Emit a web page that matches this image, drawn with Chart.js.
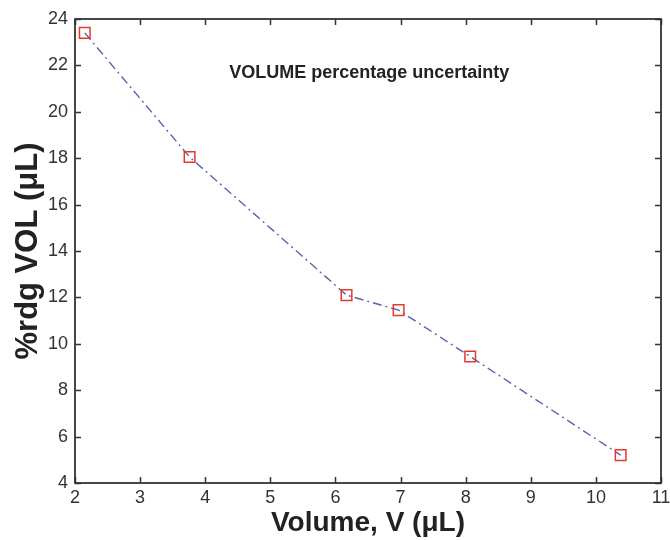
<!DOCTYPE html>
<html>
<head>
<meta charset="utf-8">
<script src="https://cdn.jsdelivr.net/npm/chart.js@4"></script>
<style>
  html, body { margin: 0; padding: 0; background: #ffffff; }
  #wrap { width: 670px; height: 540px; position: relative; }
</style>
</head>
<body>
<div id="wrap"><canvas id="c" width="670" height="540"></canvas></div>
<script>
// Data
const volumes = [2.15, 3.76, 6.17, 6.97, 8.07, 10.38];
const percentRdg = [23.4, 18.05, 12.1, 11.45, 9.45, 5.2];
const xTicks = [2, 3, 4, 5, 6, 7, 8, 9, 10, 11];
const yTicks = [4, 6, 8, 10, 12, 14, 16, 18, 20, 22, 24];
const chartTitle = 'VOLUME percentage uncertainty';
const xTitle = 'Volume, V (\u03BCL)';
const yTitle = '%rdg VOL (\u03BCL)';

const points = volumes.map((v, i) => ({ x: v, y: percentRdg[i] }));

const tickFont = { family: "'Liberation Sans Narrow', 'Liberation Sans', Arial, sans-serif", size: 18 };
const titleFontFamily = "'Liberation Sans', Arial, sans-serif";

const boxPlugin = {
  id: 'boxTicks',
  afterDatasetsDraw(chart) {
    const { ctx, chartArea: a, scales } = chart;
    const len = 6;
    ctx.save();
    ctx.strokeStyle = '#333333';
    ctx.lineWidth = 1.5;
    ctx.beginPath();
    xTicks.forEach(t => {
      const px = Math.round(scales.x.getPixelForValue(t)) + 0.5;
      ctx.moveTo(px, a.bottom); ctx.lineTo(px, a.bottom - len);
      ctx.moveTo(px, a.top); ctx.lineTo(px, a.top + len);
    });
    yTicks.forEach(t => {
      const py = Math.round(scales.y.getPixelForValue(t)) + 0.5;
      ctx.moveTo(a.left, py); ctx.lineTo(a.left + len, py);
      ctx.moveTo(a.right, py); ctx.lineTo(a.right - len, py);
    });
    ctx.stroke();
    ctx.lineWidth = 1.8;
    ctx.strokeRect(a.left, a.top, a.right - a.left, a.bottom - a.top);
    // in-plot title
    ctx.fillStyle = '#222222';
    ctx.font = 'bold 18px ' + titleFontFamily;
    ctx.textAlign = 'center';
    ctx.textBaseline = 'middle';
    ctx.fillText(chartTitle, scales.x.getPixelForValue(6.52), scales.y.getPixelForValue(21.65));
    ctx.restore();
  }
};

new Chart(document.getElementById('c'), {
  type: 'scatter',
  data: {
    datasets: [{
      data: points,
      showLine: true,
      borderColor: '#5a61ad',
      borderWidth: 1.4,
      borderDash: [9, 4, 2, 4],
      pointStyle: 'rect',
      pointRadius: 7.5,
      pointHoverRadius: 7.5,
      pointBorderColor: '#e8382e',
      pointBorderWidth: 1.5,
      pointBackgroundColor: 'rgba(0,0,0,0)',
      tension: 0
    }]
  },
  options: {
    responsive: false,
    animation: false,
    events: [],
    layout: { padding: { top: 19, right: 7, left: 0, bottom: 0 } },
    plugins: { legend: { display: false }, tooltip: { enabled: false }, title: { display: false } },
    scales: {
      x: {
        type: 'linear',
        min: 2, max: 11,
        afterBuildTicks: s => { s.ticks = xTicks.map(v => ({ value: v })); },
        afterFit: s => { s.height = 57; s.paddingLeft = 0; s.paddingRight = 0; },
        grid: { display: false, drawTicks: false },
        border: { display: false },
        ticks: { font: tickFont, color: '#333333', padding: 4, maxRotation: 0, autoSkip: false },
        title: { display: true, text: xTitle, color: '#222222', font: { family: titleFontFamily, size: 28, weight: 'bold' }, padding: { top: 0, bottom: 0 } }
      },
      y: {
        type: 'linear',
        min: 4, max: 24,
        afterBuildTicks: s => { s.ticks = yTicks.map(v => ({ value: v })); },
        afterFit: s => { s.width = 75; s.paddingTop = 0; s.paddingBottom = 0; },
        grid: { display: false, drawTicks: false },
        border: { display: false },
        ticks: { font: tickFont, color: '#333333', padding: 7, autoSkip: false },
        title: { display: true, text: yTitle, color: '#222222', font: { family: titleFontFamily, size: 31, weight: 'bold' }, padding: { top: 10, bottom: 0 } }
      }
    }
  },
  plugins: [boxPlugin]
});
</script>
</body>
</html>
